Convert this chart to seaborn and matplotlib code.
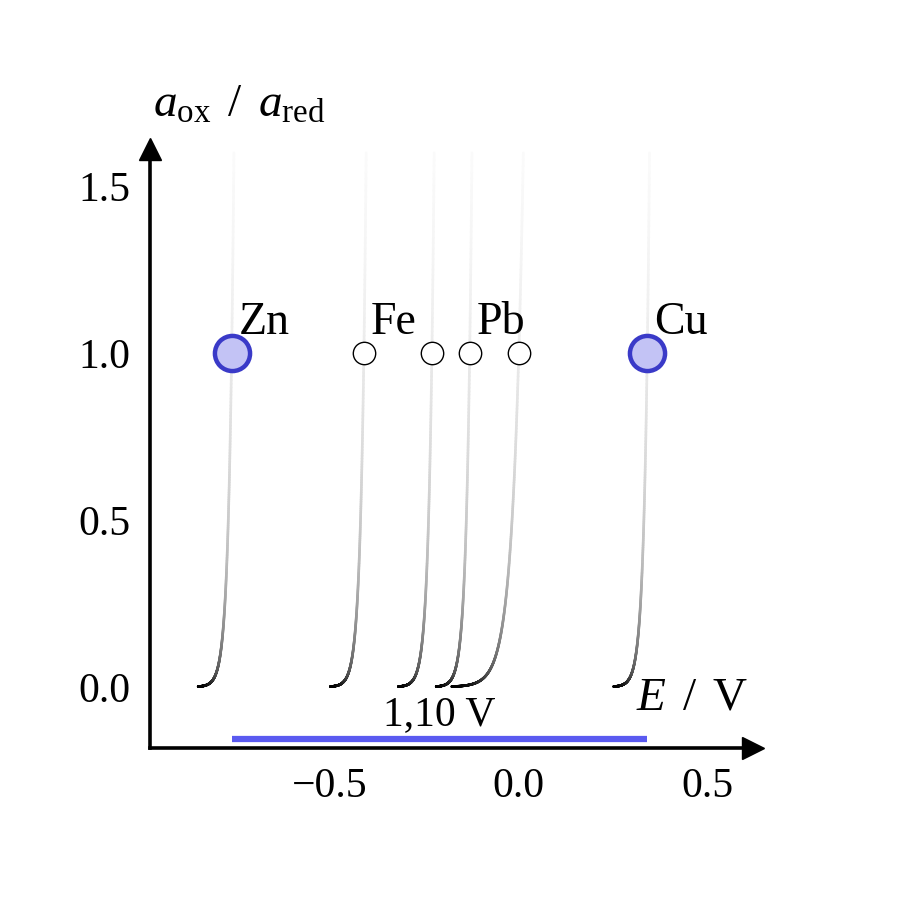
import numpy as np
import matplotlib
matplotlib.use("Agg")
import matplotlib.pyplot as plt
import seaborn as sns
import pandas as pd
from matplotlib.collections import LineCollection

# ---- data ----
metals = ["Zn", "Fe", "Ni", "Pb", "H", "Cu"]
labels = ["Zn", "Fe", "", "Pb", "", "Cu"]
E0 = [-0.76, -0.41, -0.23, -0.13, 0.00, 0.34]
n_el = [2, 2, 2, 2, 1, 2]
highlight = [True, False, False, False, False, True]
a_ref = [1.0, 1.0, 1.0, 1.0, 1.0, 1.0]
a_min, a_max = 0.001, 1.6
cell_voltage_label = "1,10 V"
xticks = [-0.5, 0.0, 0.5]
yticks = [0.0, 0.5, 1.0, 1.5]

sns.set_style("white")
plt.rcParams["font.family"] = ["Liberation Serif", "DejaVu Serif"]
plt.rcParams["mathtext.fontset"] = "custom"
plt.rcParams["mathtext.rm"] = "Liberation Serif"
plt.rcParams["mathtext.it"] = "Liberation Serif:italic"
plt.rcParams["text.color"] = "black"
plt.rcParams["xtick.color"] = "black"
plt.rcParams["ytick.color"] = "black"

fig = plt.figure(figsize=(9, 9), dpi=100)
ax = fig.add_axes([0.1667, 0.1689, 0.670, 0.665])
xlim = (-0.976, 0.62)
ylim = (-0.183, 1.61)

# Nernst curves with gradient (dark at bottom, fading upward)
slope = 0.05916
for e0, n in zip(E0, n_el):
    a = np.geomspace(a_min, a_max, 600)
    E = e0 + slope / n * np.log10(a)
    pts = np.column_stack([E, a]).reshape(-1, 1, 2)
    segs = np.concatenate([pts[:-1], pts[1:]], axis=1)
    frac = np.linspace(0, 1, len(segs))
    lc = LineCollection(segs, cmap="Greys", norm=plt.Normalize(0, 1),
                        linewidths=1.9, capstyle="round", zorder=2)
    lc.set_array(1.0 - 0.96 * frac ** 2)
    ax.add_collection(lc)

df = pd.DataFrame({"E": E0, "a": a_ref, "hl": highlight, "label": labels})
sns.scatterplot(data=df[~df.hl], x="E", y="a", ax=ax, s=260, color="white",
                edgecolor="black", linewidth=1.0, zorder=5, legend=False)
sns.scatterplot(data=df[df.hl], x="E", y="a", ax=ax, s=640, color="#c3c3f5",
                edgecolor="#3a3ac8", linewidth=3.2, zorder=6, legend=False)
ax.set_xlabel("")
ax.set_ylabel("")

for e, a, lab in zip(E0, a_ref, labels):
    if lab:
        ax.text(e + 0.018, a + 0.057, lab, fontsize=33, ha="left", va="baseline", zorder=7)

# cell voltage bar
zn, cu = E0[0], E0[-1]
ax.plot([zn, cu], [-0.157, -0.157], color="#5a5af0", lw=4.5, solid_capstyle="butt",
        zorder=4, clip_on=False)
ax.text((zn + cu) / 2, -0.113, cell_voltage_label, fontsize=30, ha="center", va="baseline")

ax.set_xlim(*xlim)
ax.set_ylim(*ylim)
ax.set_xticks(xticks)
ax.set_yticks(yticks)
ax.set_xticklabels([f"{t:.1f}".replace("-", "\u2212") for t in xticks])
ax.set_yticklabels([f"{t:.1f}" for t in yticks])
ax.tick_params(direction="inout", length=14, width=1.8, labelsize=30, pad=7, color="black")

for s in ["top", "right"]:
    ax.spines[s].set_visible(False)
for s in ["left", "bottom"]:
    ax.spines[s].set_linewidth(2.6)
    ax.spines[s].set_color("black")

# arrow heads
ax.plot(1, 0, marker=">", color="black", ms=16, transform=ax.transAxes, clip_on=False, zorder=10)
ax.plot(0, 1, marker="^", color="black", ms=16, transform=ax.transAxes, clip_on=False, zorder=10)

ax.text(0.148, 1.073, r"$a_\mathrm{ox}\ \,/\ \,a_\mathrm{red}$", transform=ax.transAxes,
        fontsize=34, ha="center", va="center")
ax.text(0.458, -0.035, r"$E\ \,/\ \,\mathrm{V}$", fontsize=34, ha="center", va="center")

fig.savefig("out.png", dpi=100)
